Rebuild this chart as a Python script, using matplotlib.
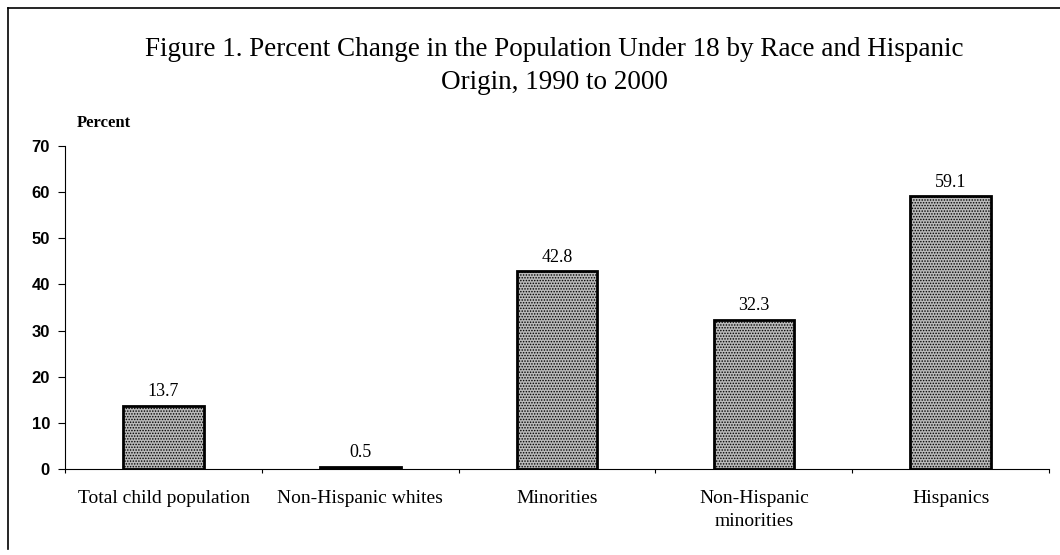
import matplotlib
matplotlib.use('Agg')
import matplotlib.pyplot as plt
from matplotlib.lines import Line2D

categories = ['Total child population', 'Non-Hispanic whites', 'Minorities',
              'Non-Hispanic\nminorities', 'Hispanics']
values = [13.7, 0.5, 42.8, 32.3, 59.1]
value_labels = ['13.7', '0.5', '42.8', '32.3', '59.1']
yticks = [0, 10, 20, 30, 40, 50, 60, 70]

serif = 'Liberation Serif'
sans = 'Liberation Sans'

fig = plt.figure(figsize=(10.6, 5.55), dpi=100)
fig.patch.set_facecolor('white')
ax = fig.add_axes([0.0615, 0.155, 0.9281, 0.582])

plt.rcParams['hatch.color'] = '#5a5a5a'
plt.rcParams['hatch.linewidth'] = 0.7
x = list(range(len(categories)))
bars = ax.bar(x, values, width=0.41, color='#b9b9b9', edgecolor='black',
              linewidth=2, hatch='......', zorder=2)

for b, lab in zip(bars, value_labels):
    ax.annotate(lab, (b.get_x() + b.get_width() / 2, b.get_height()),
                xytext=(0, 4), textcoords='offset points', ha='center',
                va='bottom', fontsize=13, family=serif)

ax.set_xlim(-0.5, len(categories) - 0.5)
ax.set_ylim(0, 70)
ax.set_yticks(yticks)
ax.set_yticklabels([str(t) for t in yticks], family=sans, fontsize=12,
                   fontweight='bold')
ax.set_xticks([i + 0.5 for i in x[:-1]] + [-0.5, len(categories) - 0.5])
ax.set_xticklabels([])
ax.tick_params(axis='x', length=3, width=0.8, direction='out')
ax.tick_params(axis='y', length=5, width=0.8, direction='out', pad=6)
for i, c in enumerate(categories):
    ax.annotate(c, (i, 0), xytext=(0, -15), textcoords='offset points',
                ha='center', va='top', fontsize=14, family=serif,
                linespacing=1.45)

for s in ['top', 'right']:
    ax.spines[s].set_visible(False)
ax.spines['left'].set_linewidth(0.8)
ax.spines['bottom'].set_linewidth(0.8)

fig.text(0.523, 0.911, 'Figure 1. Percent Change in the Population Under 18 by Race and Hispanic',
         ha='center', va='center', fontsize=19.5, family=serif)
fig.text(0.523, 0.851, 'Origin, 1990 to 2000', ha='center', va='center',
         fontsize=19.5, family=serif)
fig.text(0.072, 0.778, 'Percent', ha='left', va='center', fontsize=12,
         family=serif, fontweight='bold')

# page frame lines (top and left)
fig.add_artist(Line2D([0.008, 1.0], [0.986, 0.986], color='black', lw=1.2,
                      transform=fig.transFigure))
fig.add_artist(Line2D([0.008, 0.008], [0.01, 0.986], color='black', lw=1.2,
                      transform=fig.transFigure))

fig.savefig('out.png', dpi=100, facecolor='white')
